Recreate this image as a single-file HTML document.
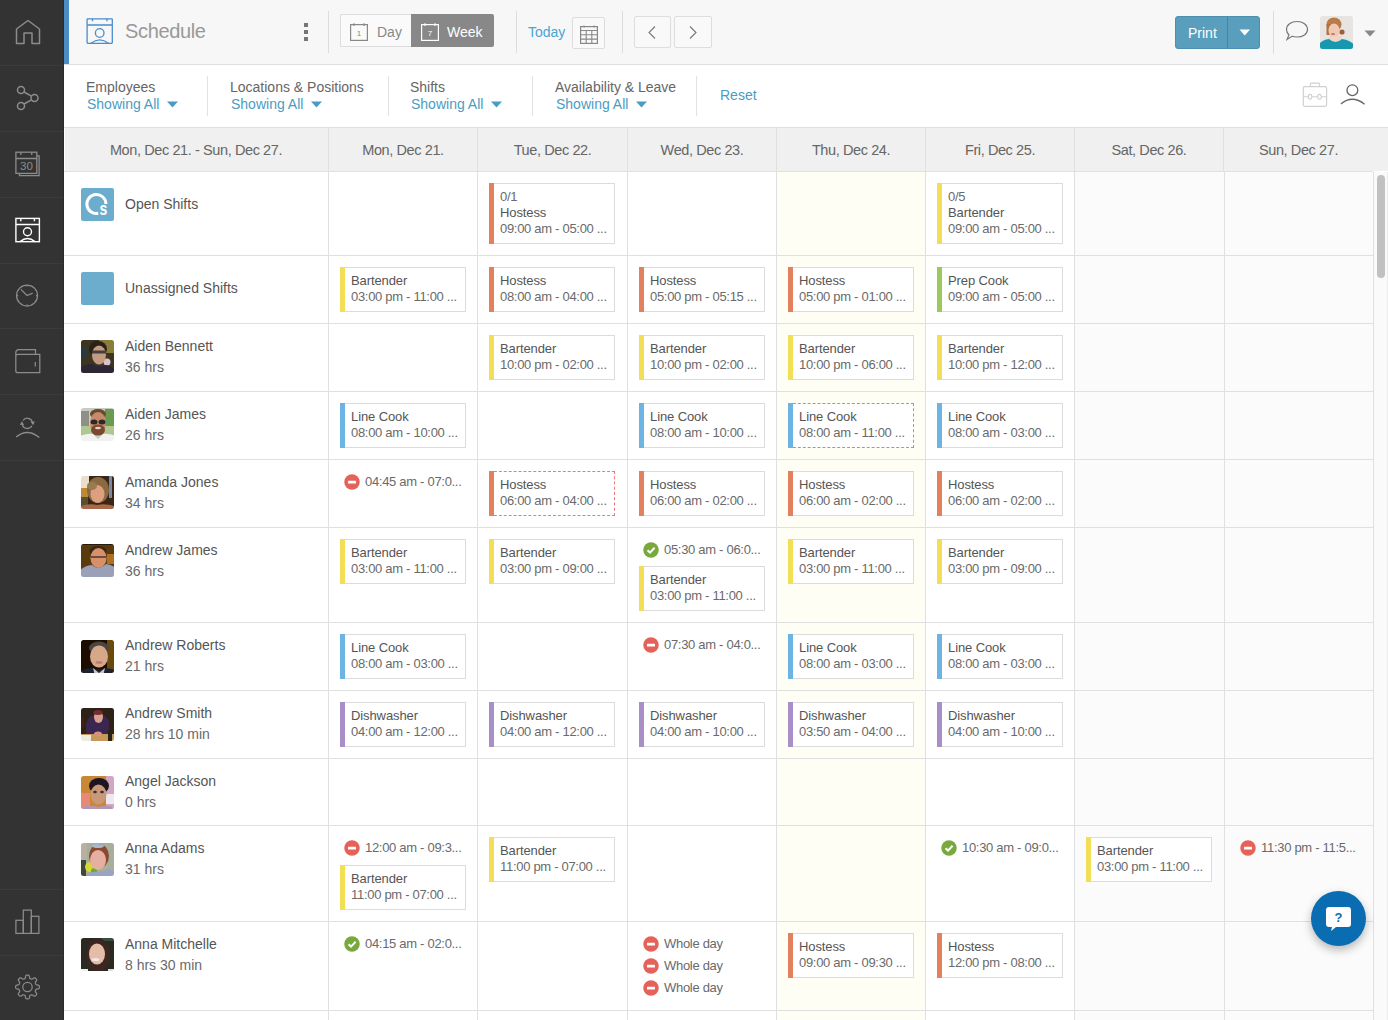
<!DOCTYPE html><html><head><meta charset="utf-8"><title>Schedule</title><style>html,body{margin:0;padding:0;}body{width:1388px;height:1020px;overflow:hidden;position:relative;background:#fff;font-family:"Liberation Sans", sans-serif;}</style></head><body><div style="position:absolute;left:0px;top:0px;width:64px;height:1020px;background:#333;"></div>
<div style="position:absolute;left:63px;top:0px;width:1px;height:1020px;background:#2a2a2a;"></div>
<div style="position:absolute;left:0px;top:65px;width:63px;height:1px;background:#3b3b3b;"></div>
<div style="position:absolute;left:0px;top:131px;width:63px;height:1px;background:#3b3b3b;"></div>
<div style="position:absolute;left:0px;top:197px;width:63px;height:1px;background:#3b3b3b;"></div>
<div style="position:absolute;left:0px;top:263px;width:63px;height:1px;background:#3b3b3b;"></div>
<div style="position:absolute;left:0px;top:328px;width:63px;height:1px;background:#3b3b3b;"></div>
<div style="position:absolute;left:0px;top:394px;width:63px;height:1px;background:#3b3b3b;"></div>
<div style="position:absolute;left:0px;top:460px;width:63px;height:1px;background:#3b3b3b;"></div>
<div style="position:absolute;left:0px;top:889px;width:63px;height:1px;background:#3b3b3b;"></div>
<div style="position:absolute;left:0px;top:955px;width:63px;height:1px;background:#3b3b3b;"></div>
<svg style="position:absolute;left:15px;top:19px;" width="26" height="26" viewBox="0 0 26 26"><path d="M1.5 24.5 V10 L13 1.5 L24.5 10 V24.5 H17 V14 H9 V24.5 Z" fill="none" stroke="#8c8c8c" stroke-width="1.5" stroke-linejoin="round"/></svg>
<svg style="position:absolute;left:15px;top:85px;" width="26" height="26" viewBox="0 0 26 26"><circle cx="6" cy="5" r="3.5" fill="none" stroke="#8c8c8c" stroke-width="1.5"/><circle cx="19.5" cy="13" r="3.5" fill="none" stroke="#8c8c8c" stroke-width="1.5"/><circle cx="6" cy="21" r="3.5" fill="none" stroke="#8c8c8c" stroke-width="1.5"/><path d="M9 7 L16.5 11.2 M9 19 L16.5 14.8" stroke="#8c8c8c" stroke-width="1.5"/></svg>
<svg style="position:absolute;left:15px;top:151px;" width="26" height="26" viewBox="0 0 26 26"><rect x="0.9" y="1.2" width="20.9" height="21.2" fill="none" stroke="#8c8c8c" stroke-width="1.3"/><path d="M0.9 7.5 H21.8 M5.9 1.2 V4 M16.75 1.2 V4 M21.8 4.8 H24.1 V24.6 H4.5 V22.4" fill="none" stroke="#8c8c8c" stroke-width="1.3"/><text x="11.4" y="19" font-size="11.5" text-anchor="middle" fill="#8c8c8c" font-family="Liberation Sans">30</text></svg>
<svg style="position:absolute;left:15px;top:217px;" width="26" height="26" viewBox="0 0 26 26"><rect x="0.9" y="1.4" width="23.5" height="23.3" fill="none" stroke="#fff" stroke-width="1.4"/><path d="M0.9 7.5 H24.4 M5.8 1.4 V4.2 M19.4 1.4 V4.2" stroke="#fff" stroke-width="1.4"/><circle cx="12.5" cy="14.8" r="4" fill="none" stroke="#fff" stroke-width="1.4"/><path d="M5.1 24.6 Q12.5 18.4 19.9 24.6" fill="none" stroke="#fff" stroke-width="1.4"/></svg>
<svg style="position:absolute;left:15px;top:283px;" width="26" height="26" viewBox="0 0 26 26"><circle cx="12.06" cy="12.5" r="10.5" fill="none" stroke="#8c8c8c" stroke-width="1.25"/><path d="M5.9 6.4 L12.06 12.5 L17.7 10.2 M12.06 2 V3.6 M12.06 21.4 V23 M1.6 12.5 H3.2 M20.9 12.5 H22.5" fill="none" stroke="#8c8c8c" stroke-width="1.25"/></svg>
<svg style="position:absolute;left:15px;top:349px;" width="26" height="26" viewBox="0 0 26 26"><path d="M0.8 22 V4 Q0.8 0.6 4 0.6 H20.5 V5.4 M0.8 7.5 Q0.8 5.4 3 5.4 H24.8 V23.7 H2.8 Q0.8 23.7 0.8 21.7" fill="none" stroke="#8c8c8c" stroke-width="1.25"/><path d="M20.3 12.9 V17.6" stroke="#8c8c8c" stroke-width="1.25"/></svg>
<svg style="position:absolute;left:15px;top:415px;" width="26" height="26" viewBox="0 0 26 26"><path d="M1.1 22 Q12.4 12.6 24.3 22.5" fill="none" stroke="#8c8c8c" stroke-width="1.4"/><path d="M8 5.5 A5.2 5.2 0 0 1 17.3 7.0 M16.9 10.85 A5.2 5.2 0 0 1 7.3 9.3" fill="none" stroke="#8c8c8c" stroke-width="1.3"/><path d="M15.6 6.8 L19.9 6.4 L18.1 10.2 Z M4.9 9.7 L9.1 9.9 L7.0 6.2 Z" fill="#8c8c8c"/></svg>
<svg style="position:absolute;left:15px;top:909px;" width="26" height="26" viewBox="0 0 26 26"><rect x="0.9" y="11.3" width="7.4" height="13.1" fill="none" stroke="#8c8c8c" stroke-width="1.25"/><rect x="8.3" y="1.1" width="8" height="23.3" fill="none" stroke="#8c8c8c" stroke-width="1.25"/><rect x="16.3" y="7.3" width="7.6" height="17.1" fill="none" stroke="#8c8c8c" stroke-width="1.25"/></svg>
<svg style="position:absolute;left:14px;top:974px;" width="28" height="28" viewBox="0 0 28 28"><path d="M25.35 13.00 L25.34 13.31 L25.32 13.62 L25.26 13.93 L25.17 14.23 L24.97 14.51 L24.60 14.76 L23.98 14.94 L23.22 15.07 L22.60 15.19 L22.22 15.34 L22.01 15.52 L21.87 15.72 L21.76 15.93 L21.67 16.14 L21.58 16.35 L21.50 16.56 L21.41 16.77 L21.34 16.99 L21.30 17.23 L21.32 17.51 L21.48 17.89 L21.84 18.41 L22.28 19.04 L22.59 19.61 L22.68 20.04 L22.62 20.38 L22.47 20.66 L22.29 20.92 L22.09 21.15 L21.88 21.38 L21.65 21.59 L21.42 21.79 L21.16 21.97 L20.88 22.12 L20.54 22.18 L20.11 22.09 L19.54 21.78 L18.91 21.34 L18.39 20.98 L18.01 20.82 L17.73 20.80 L17.49 20.84 L17.27 20.91 L17.06 21.00 L16.85 21.08 L16.64 21.17 L16.43 21.26 L16.22 21.37 L16.02 21.51 L15.84 21.72 L15.69 22.10 L15.57 22.72 L15.44 23.48 L15.26 24.10 L15.01 24.47 L14.73 24.67 L14.43 24.76 L14.12 24.82 L13.81 24.84 L13.50 24.85 L13.19 24.84 L12.88 24.82 L12.57 24.76 L12.27 24.67 L11.99 24.47 L11.74 24.10 L11.56 23.48 L11.43 22.72 L11.31 22.10 L11.16 21.72 L10.98 21.51 L10.78 21.37 L10.57 21.26 L10.36 21.17 L10.15 21.08 L9.94 21.00 L9.73 20.91 L9.51 20.84 L9.27 20.80 L8.99 20.82 L8.61 20.98 L8.09 21.34 L7.46 21.78 L6.89 22.09 L6.46 22.18 L6.12 22.12 L5.84 21.97 L5.58 21.79 L5.35 21.59 L5.12 21.38 L4.91 21.15 L4.71 20.92 L4.53 20.66 L4.38 20.38 L4.32 20.04 L4.41 19.61 L4.72 19.04 L5.16 18.41 L5.52 17.89 L5.68 17.51 L5.70 17.23 L5.66 16.99 L5.59 16.77 L5.50 16.56 L5.42 16.35 L5.33 16.14 L5.24 15.93 L5.13 15.72 L4.99 15.52 L4.78 15.34 L4.40 15.19 L3.78 15.07 L3.02 14.94 L2.40 14.76 L2.03 14.51 L1.83 14.23 L1.74 13.93 L1.68 13.62 L1.66 13.31 L1.65 13.00 L1.66 12.69 L1.68 12.38 L1.74 12.07 L1.83 11.77 L2.03 11.49 L2.40 11.24 L3.02 11.06 L3.78 10.93 L4.40 10.81 L4.78 10.66 L4.99 10.48 L5.13 10.28 L5.24 10.07 L5.33 9.86 L5.42 9.65 L5.50 9.44 L5.59 9.23 L5.66 9.01 L5.70 8.77 L5.68 8.49 L5.52 8.11 L5.16 7.59 L4.72 6.96 L4.41 6.39 L4.32 5.96 L4.38 5.62 L4.53 5.34 L4.71 5.08 L4.91 4.85 L5.12 4.62 L5.35 4.41 L5.58 4.21 L5.84 4.03 L6.12 3.88 L6.46 3.82 L6.89 3.91 L7.46 4.22 L8.09 4.66 L8.61 5.02 L8.99 5.18 L9.27 5.20 L9.51 5.16 L9.73 5.09 L9.94 5.00 L10.15 4.92 L10.36 4.83 L10.57 4.74 L10.78 4.63 L10.98 4.49 L11.16 4.28 L11.31 3.90 L11.43 3.28 L11.56 2.52 L11.74 1.90 L11.99 1.53 L12.27 1.33 L12.57 1.24 L12.88 1.18 L13.19 1.16 L13.50 1.15 L13.81 1.16 L14.12 1.18 L14.43 1.24 L14.73 1.33 L15.01 1.53 L15.26 1.90 L15.44 2.52 L15.57 3.28 L15.69 3.90 L15.84 4.28 L16.02 4.49 L16.22 4.63 L16.43 4.74 L16.64 4.83 L16.85 4.92 L17.06 5.00 L17.27 5.09 L17.49 5.16 L17.73 5.20 L18.01 5.18 L18.39 5.02 L18.91 4.66 L19.54 4.22 L20.11 3.91 L20.54 3.82 L20.88 3.88 L21.16 4.03 L21.42 4.21 L21.65 4.41 L21.88 4.62 L22.09 4.85 L22.29 5.08 L22.47 5.34 L22.62 5.62 L22.68 5.96 L22.59 6.39 L22.28 6.96 L21.84 7.59 L21.48 8.11 L21.32 8.49 L21.30 8.77 L21.34 9.01 L21.41 9.23 L21.50 9.44 L21.58 9.65 L21.67 9.86 L21.76 10.07 L21.87 10.28 L22.01 10.48 L22.22 10.66 L22.60 10.81 L23.22 10.93 L23.98 11.06 L24.60 11.24 L24.97 11.49 L25.17 11.77 L25.26 12.07 L25.32 12.38 L25.34 12.69 Z" fill="none" stroke="#8c8c8c" stroke-width="1.25" stroke-linejoin="round"/><circle cx="13.5" cy="13" r="4.7" fill="none" stroke="#8c8c8c" stroke-width="1.25"/></svg>
<div style="position:absolute;left:64px;top:0px;width:1324px;height:64px;background:#f7f7f7;"></div>
<div style="position:absolute;left:64px;top:64px;width:1324px;height:1px;background:#e0e0e0;"></div>
<div style="position:absolute;left:64px;top:0px;width:5px;height:64px;background:#4a8cc6;"></div>
<svg style="position:absolute;left:86px;top:18px;" width="27" height="26" viewBox="0 0 27 26"><rect x="1.1" y="0.8" width="25.2" height="24.5" rx="0.5" fill="none" stroke="#4a8dcc" stroke-width="1.3"/><path d="M1.1 7.0 H26.3 M6.5 0.8 V3.3 M21 0.8 V3.3" stroke="#4a8dcc" stroke-width="1.3"/><circle cx="13.7" cy="15" r="4.3" fill="none" stroke="#4a8dcc" stroke-width="1.3"/><path d="M5 25.3 Q13.7 18.3 22.4 25.3" fill="none" stroke="#4a8dcc" stroke-width="1.3"/></svg>
<div style="position:absolute;left:125px;top:19.90px;font-size:20px;line-height:23.00px;color:#999;white-space:nowrap;letter-spacing:-0.35px;">Schedule</div>
<div style="position:absolute;left:304px;top:23px;width:4px;height:4px;background:#777;"></div>
<div style="position:absolute;left:304px;top:30px;width:4px;height:4px;background:#777;"></div>
<div style="position:absolute;left:304px;top:37px;width:4px;height:4px;background:#777;"></div>
<div style="position:absolute;left:328px;top:11px;width:1px;height:42px;background:#ddd;"></div>
<div style="position:absolute;left:340px;top:14px;width:71px;height:33px;background:#fafafa;border:1px solid #ddd;border-right:none;border-radius:2px 0 0 2px;box-sizing:border-box;"></div>
<div style="position:absolute;left:411px;top:14px;width:83px;height:33px;background:#888;border-radius:0 2px 2px 0;"></div>
<svg style="position:absolute;left:350px;top:23px;" width="18" height="18" viewBox="0 0 18 18"><rect x="0.6" y="1.6" width="16.8" height="15.8" fill="none" stroke="#888" stroke-width="1.2"/><path d="M4 0.3 V3 M14 0.3 V3" stroke="#888" stroke-width="1.2"/><text x="9" y="13" font-size="8" text-anchor="middle" fill="#888" font-family="Liberation Sans">1</text></svg>
<div style="position:absolute;left:377px;top:24.33px;font-size:14px;line-height:16.10px;color:#888;white-space:nowrap;">Day</div>
<svg style="position:absolute;left:421px;top:23px;" width="18" height="18" viewBox="0 0 18 18"><rect x="0.6" y="1.6" width="16.8" height="15.8" fill="none" stroke="#fff" stroke-width="1.2"/><path d="M4 0.3 V3 M14 0.3 V3" stroke="#fff" stroke-width="1.2"/><text x="9" y="12.5" font-size="8" text-anchor="middle" fill="#fff" font-family="Liberation Sans">7</text></svg>
<div style="position:absolute;left:447px;top:24.33px;font-size:14px;line-height:16.10px;color:#fff;white-space:nowrap;">Week</div>
<div style="position:absolute;left:516px;top:11px;width:1px;height:42px;background:#ddd;"></div>
<div style="position:absolute;left:528px;top:24.33px;font-size:14px;line-height:16.10px;color:#4ba3d0;white-space:nowrap;">Today</div>
<div style="position:absolute;left:572px;top:17px;width:33px;height:32px;border:1px solid #ddd;border-radius:2px;box-sizing:border-box;background:#f9f9f9;"></div>
<svg style="position:absolute;left:580px;top:25px;" width="18" height="19" viewBox="0 0 18 19"><rect x="0.6" y="1.6" width="16.8" height="16.8" fill="none" stroke="#888" stroke-width="1.2"/><path d="M0.6 5.5 H17.4 M0.6 9.8 H17.4 M0.6 14.1 H17.4 M6.2 5.5 V18.4 M11.8 5.5 V18.4 M4 0.5 V2.5 M14 0.5 V2.5" stroke="#888" stroke-width="1.1"/></svg>
<div style="position:absolute;left:622px;top:11px;width:1px;height:42px;background:#ddd;"></div>
<div style="position:absolute;left:634px;top:16px;width:37px;height:32px;border:1px solid #ddd;border-radius:2px;box-sizing:border-box;background:#f9f9f9;"></div>
<div style="position:absolute;left:674px;top:16px;width:38px;height:32px;border:1px solid #ddd;border-radius:2px;box-sizing:border-box;background:#f9f9f9;"></div>
<svg style="position:absolute;left:646px;top:25px;" width="12" height="15" viewBox="0 0 12 15"><path d="M9 1.5 L3 7.5 L9 13.5" fill="none" stroke="#777" stroke-width="1.1"/></svg>
<svg style="position:absolute;left:687px;top:25px;" width="12" height="15" viewBox="0 0 12 15"><path d="M3 1.5 L9 7.5 L3 13.5" fill="none" stroke="#777" stroke-width="1.1"/></svg>
<div style="position:absolute;left:1175px;top:16px;width:85px;height:33px;background:#5a9ebd;border:1px solid #4d8fae;border-radius:3px;box-sizing:border-box;"></div>
<div style="position:absolute;left:1227px;top:17px;width:1px;height:31px;background:#3f86a8;"></div>
<div style="position:absolute;left:1188px;top:25.33px;font-size:14px;line-height:16.10px;color:#fff;white-space:nowrap;">Print</div>
<svg style="position:absolute;left:1239px;top:29px;" width="12" height="8" viewBox="0 0 12 8"><path d="M0.5 0.5 H11 L5.75 6.5 Z" fill="#fff"/></svg>
<div style="position:absolute;left:1273px;top:11px;width:1px;height:43px;background:#ddd;"></div>
<svg style="position:absolute;left:1285px;top:20px;" width="24" height="22" viewBox="0 0 24 22"><path d="M12 1.5 C18 1.5 22.5 5 22.5 9.5 C22.5 14 18 17 12 17 C10 17 8.5 16.8 7 16.3 L2 19.5 L4 15 C2.5 13.5 1.5 11.8 1.5 9.5 C1.5 5 6 1.5 12 1.5 Z" fill="none" stroke="#777" stroke-width="1.2"/></svg>
<svg style="position:absolute;left:1320px;top:16px;" width="33" height="33" viewBox="0 0 33 33"><defs><clipPath id="cpa"><rect width="33" height="33" rx="2.5"/></clipPath><filter id="fpa"><feGaussianBlur stdDeviation="0.7"/></filter></defs><g clip-path="url(#cpa)"><g filter="url(#fpa)"><rect x="-3" y="-3" width="39" height="39" fill="#e8e4e2"/><ellipse cx="14" cy="8.5" rx="7.5" ry="7" fill="#b87c48"/><rect x="6.5" y="8" width="4" height="11" fill="#b07040"/><circle cx="22" cy="16" r="2.6" fill="#9a6038"/><ellipse cx="14" cy="14.5" rx="5.5" ry="7" fill="#f0c8b4"/><ellipse cx="13" cy="18" rx="2" ry="1" fill="#d86870"/><path d="M9 20 H21 L23 28 H8 Z" fill="#f0d4c4"/><path d="M-3 36 L-3 30 Q3 23 9 23 Q15.5 29 22 23 Q30 24 36 30 L36 36 Z" fill="#1898b0"/></g></g></svg>
<svg style="position:absolute;left:1364px;top:30px;" width="12" height="7" viewBox="0 0 12 7"><path d="M0.5 0.5 H11.5 L6 6.5 Z" fill="#888"/></svg>
<div style="position:absolute;left:64px;top:65px;width:1324px;height:62px;background:#fff;"></div>
<div style="position:absolute;left:64px;top:127px;width:1324px;height:1px;background:#e0e0e0;"></div>
<div style="position:absolute;left:86px;top:79.33px;font-size:14px;line-height:16.10px;color:#666;white-space:nowrap;">Employees</div>
<div style="position:absolute;left:87px;top:96.33px;font-size:14px;line-height:16.10px;color:#4a9cc2;white-space:nowrap;">Showing All</div>
<svg style="position:absolute;left:167px;top:101px;" width="11" height="7" viewBox="0 0 11 7"><path d="M0 0.5 H11 L5.5 6.5 Z" fill="#4a9cc2"/></svg>
<div style="position:absolute;left:207px;top:76px;width:1px;height:40px;background:#e3e3e3;"></div>
<div style="position:absolute;left:230px;top:79.33px;font-size:14px;line-height:16.10px;color:#666;white-space:nowrap;">Locations &amp; Positions</div>
<div style="position:absolute;left:231px;top:96.33px;font-size:14px;line-height:16.10px;color:#4a9cc2;white-space:nowrap;">Showing All</div>
<svg style="position:absolute;left:311px;top:101px;" width="11" height="7" viewBox="0 0 11 7"><path d="M0 0.5 H11 L5.5 6.5 Z" fill="#4a9cc2"/></svg>
<div style="position:absolute;left:388px;top:76px;width:1px;height:40px;background:#e3e3e3;"></div>
<div style="position:absolute;left:410px;top:79.33px;font-size:14px;line-height:16.10px;color:#666;white-space:nowrap;">Shifts</div>
<div style="position:absolute;left:411px;top:96.33px;font-size:14px;line-height:16.10px;color:#4a9cc2;white-space:nowrap;">Showing All</div>
<svg style="position:absolute;left:491px;top:101px;" width="11" height="7" viewBox="0 0 11 7"><path d="M0 0.5 H11 L5.5 6.5 Z" fill="#4a9cc2"/></svg>
<div style="position:absolute;left:532px;top:76px;width:1px;height:40px;background:#e3e3e3;"></div>
<div style="position:absolute;left:555px;top:79.33px;font-size:14px;line-height:16.10px;color:#666;white-space:nowrap;">Availability &amp; Leave</div>
<div style="position:absolute;left:556px;top:96.33px;font-size:14px;line-height:16.10px;color:#4a9cc2;white-space:nowrap;">Showing All</div>
<svg style="position:absolute;left:636px;top:101px;" width="11" height="7" viewBox="0 0 11 7"><path d="M0 0.5 H11 L5.5 6.5 Z" fill="#4a9cc2"/></svg>
<div style="position:absolute;left:696px;top:76px;width:1px;height:40px;background:#e3e3e3;"></div>
<div style="position:absolute;left:720px;top:87.33px;font-size:14px;line-height:16.10px;color:#4a9cc2;white-space:nowrap;">Reset</div>
<svg style="position:absolute;left:1302px;top:81.7px;" width="26" height="26" viewBox="0 0 26 26"><path d="M8.4 4.7 V2 Q8.4 1.1 9.3 1.1 H16.6 Q17.5 1.1 17.5 2 V4.7" fill="none" stroke="#d0d0d0" stroke-width="1.2"/><rect x="1.3" y="4.7" width="23.3" height="19.6" rx="1.5" fill="none" stroke="#d0d0d0" stroke-width="1.2"/><path d="M1.3 14.75 H6.3 M9.9 14.75 H15.7 M19.3 14.75 H24.6" stroke="#d0d0d0" stroke-width="1.2"/><ellipse cx="8.1" cy="14.75" rx="1.8" ry="2.4" fill="none" stroke="#d0d0d0" stroke-width="1.1"/><ellipse cx="17.5" cy="14.75" rx="1.8" ry="2.4" fill="none" stroke="#d0d0d0" stroke-width="1.1"/></svg>
<svg style="position:absolute;left:1339px;top:83px;" width="27" height="23" viewBox="0 0 27 23"><circle cx="13.4" cy="7.2" r="5.4" fill="none" stroke="#666" stroke-width="1.3"/><path d="M1.9 20.9 Q13.4 11.5 25.6 21.2" fill="none" stroke="#666" stroke-width="1.3"/></svg>
<div style="position:absolute;left:65px;top:128px;width:1308px;height:43px;background:#f0f0f0;"></div>
<div style="position:absolute;left:1373px;top:128px;width:15px;height:43px;background:#f0f0f0;"></div>
<div style="position:absolute;left:64px;top:171px;width:1309px;height:1px;background:#e0e0e0;"></div>
<div style="position:absolute;left:46px;top:141.88px;width:300px;text-align:center;font-size:14.5px;line-height:16.67px;color:#666;white-space:nowrap;letter-spacing:-0.4px;">Mon, Dec 21. - Sun, Dec 27.</div>
<div style="position:absolute;left:253.0px;top:141.88px;width:300px;text-align:center;font-size:14.5px;line-height:16.67px;color:#666;white-space:nowrap;letter-spacing:-0.4px;">Mon, Dec 21.</div>
<div style="position:absolute;left:402.5px;top:141.88px;width:300px;text-align:center;font-size:14.5px;line-height:16.67px;color:#666;white-space:nowrap;letter-spacing:-0.4px;">Tue, Dec 22.</div>
<div style="position:absolute;left:552.0px;top:141.88px;width:300px;text-align:center;font-size:14.5px;line-height:16.67px;color:#666;white-space:nowrap;letter-spacing:-0.4px;">Wed, Dec 23.</div>
<div style="position:absolute;left:701.0px;top:141.88px;width:300px;text-align:center;font-size:14.5px;line-height:16.67px;color:#666;white-space:nowrap;letter-spacing:-0.4px;">Thu, Dec 24.</div>
<div style="position:absolute;left:850.0px;top:141.88px;width:300px;text-align:center;font-size:14.5px;line-height:16.67px;color:#666;white-space:nowrap;letter-spacing:-0.4px;">Fri, Dec 25.</div>
<div style="position:absolute;left:999.0px;top:141.88px;width:300px;text-align:center;font-size:14.5px;line-height:16.67px;color:#666;white-space:nowrap;letter-spacing:-0.4px;">Sat, Dec 26.</div>
<div style="position:absolute;left:1148.5px;top:141.88px;width:300px;text-align:center;font-size:14.5px;line-height:16.67px;color:#666;white-space:nowrap;letter-spacing:-0.4px;">Sun, Dec 27.</div>
<div style="position:absolute;left:777px;top:172px;width:148px;height:848px;background:#fefef4;"></div>
<div style="position:absolute;left:1075px;top:172px;width:298px;height:848px;background:#fbfbfb;"></div>
<div style="position:absolute;left:328px;top:128px;width:1px;height:44px;background:#e0e0e0;"></div>
<div style="position:absolute;left:477px;top:128px;width:1px;height:44px;background:#e0e0e0;"></div>
<div style="position:absolute;left:627px;top:128px;width:1px;height:44px;background:#e0e0e0;"></div>
<div style="position:absolute;left:776px;top:128px;width:1px;height:44px;background:#e0e0e0;"></div>
<div style="position:absolute;left:925px;top:128px;width:1px;height:44px;background:#e0e0e0;"></div>
<div style="position:absolute;left:1074px;top:128px;width:1px;height:44px;background:#e0e0e0;"></div>
<div style="position:absolute;left:1223px;top:128px;width:1px;height:44px;background:#e0e0e0;"></div>
<div style="position:absolute;left:328px;top:172px;width:1px;height:848px;background:#e0e0e0;"></div>
<div style="position:absolute;left:477px;top:172px;width:1px;height:848px;background:#e0e0e0;"></div>
<div style="position:absolute;left:627px;top:172px;width:1px;height:848px;background:#e0e0e0;"></div>
<div style="position:absolute;left:776px;top:172px;width:1px;height:848px;background:#e0e0e0;"></div>
<div style="position:absolute;left:925px;top:172px;width:1px;height:848px;background:#e0e0e0;"></div>
<div style="position:absolute;left:1074px;top:172px;width:1px;height:848px;background:#e0e0e0;"></div>
<div style="position:absolute;left:1224px;top:172px;width:1px;height:848px;background:#e0e0e0;"></div>
<div style="position:absolute;left:1373px;top:172px;width:1px;height:848px;background:#e0e0e0;"></div>
<div style="position:absolute;left:64px;top:255px;width:1309px;height:1px;background:#e0e0e0;"></div>
<div style="position:absolute;left:64px;top:323px;width:1309px;height:1px;background:#e0e0e0;"></div>
<div style="position:absolute;left:64px;top:391px;width:1309px;height:1px;background:#e0e0e0;"></div>
<div style="position:absolute;left:64px;top:459px;width:1309px;height:1px;background:#e0e0e0;"></div>
<div style="position:absolute;left:64px;top:527px;width:1309px;height:1px;background:#e0e0e0;"></div>
<div style="position:absolute;left:64px;top:622px;width:1309px;height:1px;background:#e0e0e0;"></div>
<div style="position:absolute;left:64px;top:690px;width:1309px;height:1px;background:#e0e0e0;"></div>
<div style="position:absolute;left:64px;top:758px;width:1309px;height:1px;background:#e0e0e0;"></div>
<div style="position:absolute;left:64px;top:825px;width:1309px;height:1px;background:#e0e0e0;"></div>
<div style="position:absolute;left:64px;top:921px;width:1309px;height:1px;background:#e0e0e0;"></div>
<div style="position:absolute;left:64px;top:1010px;width:1309px;height:1px;background:#e0e0e0;"></div>
<div style="position:absolute;left:1374px;top:172px;width:14px;height:848px;background:#fafafa;"></div>
<div style="position:absolute;left:1387px;top:172px;width:1px;height:848px;background:#ececec;"></div>
<div style="position:absolute;left:1377px;top:175px;width:8px;height:103px;background:#c1c1c1;border-radius:4px;"></div>
<svg style="position:absolute;left:81px;top:188px;" width="33" height="33" viewBox="0 0 33 33"><rect width="33" height="33" rx="2" fill="#6cadcd"/><path d="M24.9 15.9 A9.5 9.5 0 1 0 17.2 25.3" fill="none" stroke="#fff" stroke-width="3"/><text transform="translate(18.6 27) scale(0.78 1)" font-size="18" font-weight="bold" fill="#fff" font-family="Liberation Sans">s</text></svg>
<div style="position:absolute;left:125px;top:196.33px;font-size:14px;line-height:16.10px;color:#555;white-space:nowrap;">Open Shifts</div>
<svg style="position:absolute;left:81px;top:272px;" width="33" height="33" viewBox="0 0 33 33"><rect width="33" height="33" rx="2" fill="#6cadcd"/></svg>
<div style="position:absolute;left:125px;top:280.33px;font-size:14px;line-height:16.10px;color:#555;white-space:nowrap;">Unassigned Shifts</div>
<svg style="position:absolute;left:81px;top:340px;" width="33" height="33" viewBox="0 0 33 33"><defs><clipPath id="avc1"><rect width="33" height="33" rx="2.5"/></clipPath><filter id="avf1" x="-10%" y="-10%" width="120%" height="120%"><feGaussianBlur stdDeviation="0.7"/></filter></defs><g clip-path="url(#avc1)"><g filter="url(#avf1)"><rect x="-3" y="-3" width="39" height="39" fill="#3a3420"/><rect x="18" y="-3" width="18" height="16" fill="#8a7c3a"/><rect x="-3" y="8" width="9" height="10" fill="#2a3a40"/><circle cx="26" cy="22" r="3.5" fill="#d8c0cc"/><ellipse cx="17" cy="9" rx="9" ry="8" fill="#2a2218"/><ellipse cx="18" cy="15" rx="7" ry="9.5" fill="#c49a80"/><rect x="11" y="10.5" width="14" height="3" fill="#404040"/><path d="M-3 36 L-3 30 Q3 24 11 24 Q18 28 25 25 Q33 26 36 33 L36 36 Z" fill="#2e2636"/></g></g></svg>
<div style="position:absolute;left:125px;top:338.33px;font-size:14px;line-height:16.10px;color:#555;white-space:nowrap;">Aiden Bennett</div>
<div style="position:absolute;left:125px;top:359.33px;font-size:14px;line-height:16.10px;color:#6a6a6a;white-space:nowrap;">36 hrs</div>
<svg style="position:absolute;left:81px;top:408px;" width="33" height="33" viewBox="0 0 33 33"><defs><clipPath id="avc2"><rect width="33" height="33" rx="2.5"/></clipPath><filter id="avf2" x="-10%" y="-10%" width="120%" height="120%"><feGaussianBlur stdDeviation="0.7"/></filter></defs><g clip-path="url(#avc2)"><g filter="url(#avf2)"><rect x="-3" y="-3" width="39" height="39" fill="#c8ccbe"/><rect x="-3" y="3" width="11" height="16" fill="#8c9088"/><rect x="24" y="1" width="12" height="18" fill="#6a9a50"/><rect x="-3" y="18" width="39" height="9" fill="#b0c890"/><ellipse cx="17" cy="6" rx="8" ry="5" fill="#6a4a30"/><ellipse cx="17" cy="15" rx="8" ry="11" fill="#c88a6a"/><ellipse cx="13" cy="14" rx="3.5" ry="2.5" fill="#2a2a2a"/><ellipse cx="21" cy="14" rx="3.5" ry="2.5" fill="#2a2a2a"/><ellipse cx="17" cy="22" rx="7" ry="5.5" fill="#7a4a32"/><ellipse cx="17" cy="20" rx="3" ry="1.2" fill="#e8d0c0"/><path d="M-3 36 L-3 29 Q6 25 12 26 L17 31 L22 26 Q29 25 36 29 L36 36 Z" fill="#f2f2f2"/></g></g></svg>
<div style="position:absolute;left:125px;top:406.33px;font-size:14px;line-height:16.10px;color:#555;white-space:nowrap;">Aiden James</div>
<div style="position:absolute;left:125px;top:427.33px;font-size:14px;line-height:16.10px;color:#6a6a6a;white-space:nowrap;">26 hrs</div>
<svg style="position:absolute;left:81px;top:476px;" width="33" height="33" viewBox="0 0 33 33"><defs><clipPath id="avc3"><rect width="33" height="33" rx="2.5"/></clipPath><filter id="avf3" x="-10%" y="-10%" width="120%" height="120%"><feGaussianBlur stdDeviation="0.7"/></filter></defs><g clip-path="url(#avc3)"><g filter="url(#avf3)"><rect x="-3" y="-3" width="39" height="39" fill="#3a2818"/><rect x="-3" y="-3" width="11" height="15" fill="#e8e0c8"/><rect x="-3" y="12" width="10" height="9" fill="#c08830"/><rect x="-3" y="21" width="10" height="12" fill="#5a5030"/><rect x="28" y="-3" width="3" height="25" fill="#7a88a8"/><ellipse cx="17" cy="14" rx="11" ry="13" fill="#8a6a40"/><ellipse cx="16.5" cy="18" rx="7" ry="9" fill="#dca080"/><ellipse cx="11" cy="10" rx="5" ry="4" fill="#9a7a50"/><path d="M-3 36 L0 30 Q8 27 16 29 Q26 27 36 31 L36 36 Z" fill="#a86848"/></g></g></svg>
<div style="position:absolute;left:125px;top:474.33px;font-size:14px;line-height:16.10px;color:#555;white-space:nowrap;">Amanda Jones</div>
<div style="position:absolute;left:125px;top:495.33px;font-size:14px;line-height:16.10px;color:#6a6a6a;white-space:nowrap;">34 hrs</div>
<svg style="position:absolute;left:81px;top:544px;" width="33" height="33" viewBox="0 0 33 33"><defs><clipPath id="avc4"><rect width="33" height="33" rx="2.5"/></clipPath><filter id="avf4" x="-10%" y="-10%" width="120%" height="120%"><feGaussianBlur stdDeviation="0.7"/></filter></defs><g clip-path="url(#avc4)"><g filter="url(#avf4)"><rect x="-3" y="-3" width="39" height="39" fill="#5a3a10"/><rect x="26" y="10" width="10" height="10" fill="#b07020"/><rect x="-3" y="-3" width="39" height="4" fill="#2a1a08"/><ellipse cx="17" cy="7" rx="8.5" ry="5" fill="#3a2818"/><ellipse cx="17.5" cy="14" rx="8" ry="10" fill="#d8906a"/><rect x="10" y="12" width="15" height="2" fill="#6a5040"/><path d="M-3 36 L-3 28 Q4 21 11 21 Q17 27 25 20 Q33 21 36 26 L36 36 Z" fill="#9aa0b8"/></g></g></svg>
<div style="position:absolute;left:125px;top:542.33px;font-size:14px;line-height:16.10px;color:#555;white-space:nowrap;">Andrew James</div>
<div style="position:absolute;left:125px;top:563.33px;font-size:14px;line-height:16.10px;color:#6a6a6a;white-space:nowrap;">36 hrs</div>
<svg style="position:absolute;left:81px;top:640px;" width="33" height="33" viewBox="0 0 33 33"><defs><clipPath id="avc5"><rect width="33" height="33" rx="2.5"/></clipPath><filter id="avf5" x="-10%" y="-10%" width="120%" height="120%"><feGaussianBlur stdDeviation="0.7"/></filter></defs><g clip-path="url(#avc5)"><g filter="url(#avf5)"><rect x="-3" y="-3" width="39" height="39" fill="#1e0c06"/><rect x="26" y="-3" width="10" height="39" fill="#6a4a10"/><ellipse cx="18" cy="8" rx="10" ry="6.5" fill="#4a4440"/><ellipse cx="18" cy="16.5" rx="9" ry="11" fill="#d4a888"/><ellipse cx="18" cy="22.5" rx="3.5" ry="1.2" fill="#c07870"/><path d="M-3 36 L2 30 Q10 27 13 28 Q18 31 24 28 Q30 28 36 31 L36 36 Z" fill="#1e2230"/><path d="M12 28 L18 33 L24 28 L22 36 L14 36 Z" fill="#c8c8c8"/></g></g></svg>
<div style="position:absolute;left:125px;top:637.33px;font-size:14px;line-height:16.10px;color:#555;white-space:nowrap;">Andrew Roberts</div>
<div style="position:absolute;left:125px;top:658.33px;font-size:14px;line-height:16.10px;color:#6a6a6a;white-space:nowrap;">21 hrs</div>
<svg style="position:absolute;left:81px;top:708px;" width="33" height="33" viewBox="0 0 33 33"><defs><clipPath id="avc6"><rect width="33" height="33" rx="2.5"/></clipPath><filter id="avf6" x="-10%" y="-10%" width="120%" height="120%"><feGaussianBlur stdDeviation="0.7"/></filter></defs><g clip-path="url(#avc6)"><g filter="url(#avf6)"><rect x="-3" y="-3" width="39" height="39" fill="#2e2018"/><rect x="-3" y="10" width="6" height="10" fill="#4a1c18"/><ellipse cx="17" cy="15" rx="11" ry="9" fill="#3a2850"/><rect x="5" y="15" width="23" height="12" fill="#3a2850"/><ellipse cx="17.5" cy="9" rx="4.5" ry="6" fill="#d8a090"/><ellipse cx="17" cy="4.5" rx="4.5" ry="2.5" fill="#7a2a30"/><rect x="-3" y="26" width="39" height="10" fill="#c89858"/><rect x="-3" y="27" width="13" height="9" fill="#eeeae0"/><ellipse cx="17" cy="26" rx="4" ry="2.5" fill="#d89080"/><rect x="27" y="22" width="4" height="14" fill="#2a2418"/></g></g></svg>
<div style="position:absolute;left:125px;top:705.33px;font-size:14px;line-height:16.10px;color:#555;white-space:nowrap;">Andrew Smith</div>
<div style="position:absolute;left:125px;top:726.33px;font-size:14px;line-height:16.10px;color:#6a6a6a;white-space:nowrap;">28 hrs 10 min</div>
<svg style="position:absolute;left:81px;top:776px;" width="33" height="33" viewBox="0 0 33 33"><defs><clipPath id="avc7"><rect width="33" height="33" rx="2.5"/></clipPath><filter id="avf7" x="-10%" y="-10%" width="120%" height="120%"><feGaussianBlur stdDeviation="0.7"/></filter></defs><g clip-path="url(#avc7)"><g filter="url(#avf7)"><rect x="-3" y="-3" width="39" height="39" fill="#c88838"/><rect x="-3" y="17" width="12" height="19" fill="#e88878"/><rect x="25" y="-3" width="11" height="39" fill="#d0a8c0"/><rect x="25" y="18" width="11" height="10" fill="#f0e8f0"/><ellipse cx="18" cy="10" rx="10" ry="8" fill="#1e1420"/><ellipse cx="17.5" cy="18.5" rx="8" ry="10" fill="#c89878"/><ellipse cx="14" cy="16" rx="1.8" ry="1.2" fill="#3a2a30"/><ellipse cx="21" cy="16" rx="1.8" ry="1.2" fill="#3a2a30"/><path d="M-3 36 L4 30 Q12 29 17 31 Q23 29 30 30 L36 36 Z" fill="#b098b0"/></g></g></svg>
<div style="position:absolute;left:125px;top:773.33px;font-size:14px;line-height:16.10px;color:#555;white-space:nowrap;">Angel Jackson</div>
<div style="position:absolute;left:125px;top:794.33px;font-size:14px;line-height:16.10px;color:#6a6a6a;white-space:nowrap;">0 hrs</div>
<svg style="position:absolute;left:81px;top:843px;" width="33" height="33" viewBox="0 0 33 33"><defs><clipPath id="avc8"><rect width="33" height="33" rx="2.5"/></clipPath><filter id="avf8" x="-10%" y="-10%" width="120%" height="120%"><feGaussianBlur stdDeviation="0.7"/></filter></defs><g clip-path="url(#avc8)"><g filter="url(#avf8)"><rect x="-3" y="-3" width="39" height="39" fill="#a8ae9c"/><rect x="-3" y="-3" width="9" height="20" fill="#b8b0a0"/><rect x="-3" y="17" width="8" height="19" fill="#404838"/><circle cx="9" cy="24" r="5" fill="#d8d830"/><circle cx="13" cy="28" r="3" fill="#60b030"/><ellipse cx="18" cy="13" rx="10" ry="12" fill="#8a4a30"/><ellipse cx="17" cy="17" rx="8" ry="10" fill="#e6b0a0"/><ellipse cx="17" cy="3" rx="6" ry="2" fill="#a8b8d0"/><path d="M3 36 L6 31 Q12 28 16 29 Q22 29 27 26 Q33 27 36 32 L36 36 Z" fill="#9aa4c0"/></g></g></svg>
<div style="position:absolute;left:125px;top:840.33px;font-size:14px;line-height:16.10px;color:#555;white-space:nowrap;">Anna Adams</div>
<div style="position:absolute;left:125px;top:861.33px;font-size:14px;line-height:16.10px;color:#6a6a6a;white-space:nowrap;">31 hrs</div>
<svg style="position:absolute;left:81px;top:938px;" width="33" height="33" viewBox="0 0 33 33"><defs><clipPath id="avc9"><rect width="33" height="33" rx="2.5"/></clipPath><filter id="avf9" x="-10%" y="-10%" width="120%" height="120%"><feGaussianBlur stdDeviation="0.7"/></filter></defs><g clip-path="url(#avc9)"><g filter="url(#avf9)"><rect x="-3" y="-3" width="39" height="39" fill="#2a2a24"/><rect x="20" y="-3" width="16" height="6" fill="#3a5040"/><ellipse cx="17" cy="17" rx="12" ry="17" fill="#3a2822"/><ellipse cx="16" cy="16" rx="8" ry="10.5" fill="#e4bca8"/><ellipse cx="14.5" cy="21.5" rx="4" ry="1.5" fill="#f0e8e8"/><rect x="-3" y="31" width="10" height="5" fill="#eeeeee"/><rect x="27" y="31" width="9" height="5" fill="#dddddd"/></g></g></svg>
<div style="position:absolute;left:125px;top:936.33px;font-size:14px;line-height:16.10px;color:#555;white-space:nowrap;">Anna Mitchelle</div>
<div style="position:absolute;left:125px;top:957.33px;font-size:14px;line-height:16.10px;color:#6a6a6a;white-space:nowrap;">8 hrs 30 min</div>
<div style="position:absolute;left:489px;top:183px;width:126px;height:61px;background:#fff;border:1px solid #dcdcdc;box-sizing:border-box;"></div>
<div style="position:absolute;left:489px;top:183px;width:5px;height:61px;background:#e3805d;"></div>
<div style="position:absolute;left:500px;top:189.94px;font-size:13px;line-height:14.95px;color:#6a6a6a;white-space:nowrap;letter-spacing:-0.3px;">0/1</div>
<div style="position:absolute;left:500px;top:205.94px;font-size:13px;line-height:14.95px;color:#555;white-space:nowrap;letter-spacing:-0.1px;">Hostess</div>
<div style="position:absolute;left:500px;top:221.94px;font-size:13px;line-height:14.95px;color:#6a6a6a;white-space:nowrap;letter-spacing:-0.3px;">09:00 am - 05:00 ...</div>
<div style="position:absolute;left:937px;top:183px;width:126px;height:61px;background:#fff;border:1px solid #dcdcdc;box-sizing:border-box;"></div>
<div style="position:absolute;left:937px;top:183px;width:5px;height:61px;background:#f3df55;"></div>
<div style="position:absolute;left:948px;top:189.94px;font-size:13px;line-height:14.95px;color:#6a6a6a;white-space:nowrap;letter-spacing:-0.3px;">0/5</div>
<div style="position:absolute;left:948px;top:205.94px;font-size:13px;line-height:14.95px;color:#555;white-space:nowrap;letter-spacing:-0.1px;">Bartender</div>
<div style="position:absolute;left:948px;top:221.94px;font-size:13px;line-height:14.95px;color:#6a6a6a;white-space:nowrap;letter-spacing:-0.3px;">09:00 am - 05:00 ...</div>
<div style="position:absolute;left:340px;top:267px;width:126px;height:45px;background:#fff;border:1px solid #dcdcdc;box-sizing:border-box;"></div>
<div style="position:absolute;left:340px;top:267px;width:5px;height:45px;background:#f3df55;"></div>
<div style="position:absolute;left:351px;top:273.94px;font-size:13px;line-height:14.95px;color:#555;white-space:nowrap;letter-spacing:-0.1px;">Bartender</div>
<div style="position:absolute;left:351px;top:289.94px;font-size:13px;line-height:14.95px;color:#6a6a6a;white-space:nowrap;letter-spacing:-0.3px;">03:00 pm - 11:00 ...</div>
<div style="position:absolute;left:489px;top:267px;width:126px;height:45px;background:#fff;border:1px solid #dcdcdc;box-sizing:border-box;"></div>
<div style="position:absolute;left:489px;top:267px;width:5px;height:45px;background:#e3805d;"></div>
<div style="position:absolute;left:500px;top:273.94px;font-size:13px;line-height:14.95px;color:#555;white-space:nowrap;letter-spacing:-0.1px;">Hostess</div>
<div style="position:absolute;left:500px;top:289.94px;font-size:13px;line-height:14.95px;color:#6a6a6a;white-space:nowrap;letter-spacing:-0.3px;">08:00 am - 04:00 ...</div>
<div style="position:absolute;left:639px;top:267px;width:126px;height:45px;background:#fff;border:1px solid #dcdcdc;box-sizing:border-box;"></div>
<div style="position:absolute;left:639px;top:267px;width:5px;height:45px;background:#e3805d;"></div>
<div style="position:absolute;left:650px;top:273.94px;font-size:13px;line-height:14.95px;color:#555;white-space:nowrap;letter-spacing:-0.1px;">Hostess</div>
<div style="position:absolute;left:650px;top:289.94px;font-size:13px;line-height:14.95px;color:#6a6a6a;white-space:nowrap;letter-spacing:-0.3px;">05:00 pm - 05:15 ...</div>
<div style="position:absolute;left:788px;top:267px;width:126px;height:45px;background:#fff;border:1px solid #dcdcdc;box-sizing:border-box;"></div>
<div style="position:absolute;left:788px;top:267px;width:5px;height:45px;background:#e3805d;"></div>
<div style="position:absolute;left:799px;top:273.94px;font-size:13px;line-height:14.95px;color:#555;white-space:nowrap;letter-spacing:-0.1px;">Hostess</div>
<div style="position:absolute;left:799px;top:289.94px;font-size:13px;line-height:14.95px;color:#6a6a6a;white-space:nowrap;letter-spacing:-0.3px;">05:00 pm - 01:00 ...</div>
<div style="position:absolute;left:937px;top:267px;width:126px;height:45px;background:#fff;border:1px solid #dcdcdc;box-sizing:border-box;"></div>
<div style="position:absolute;left:937px;top:267px;width:5px;height:45px;background:#9cc95a;"></div>
<div style="position:absolute;left:948px;top:273.94px;font-size:13px;line-height:14.95px;color:#555;white-space:nowrap;letter-spacing:-0.1px;">Prep Cook</div>
<div style="position:absolute;left:948px;top:289.94px;font-size:13px;line-height:14.95px;color:#6a6a6a;white-space:nowrap;letter-spacing:-0.3px;">09:00 am - 05:00 ...</div>
<div style="position:absolute;left:489px;top:335px;width:126px;height:45px;background:#fff;border:1px solid #dcdcdc;box-sizing:border-box;"></div>
<div style="position:absolute;left:489px;top:335px;width:5px;height:45px;background:#f3df55;"></div>
<div style="position:absolute;left:500px;top:341.94px;font-size:13px;line-height:14.95px;color:#555;white-space:nowrap;letter-spacing:-0.1px;">Bartender</div>
<div style="position:absolute;left:500px;top:357.94px;font-size:13px;line-height:14.95px;color:#6a6a6a;white-space:nowrap;letter-spacing:-0.3px;">10:00 pm - 02:00 ...</div>
<div style="position:absolute;left:639px;top:335px;width:126px;height:45px;background:#fff;border:1px solid #dcdcdc;box-sizing:border-box;"></div>
<div style="position:absolute;left:639px;top:335px;width:5px;height:45px;background:#f3df55;"></div>
<div style="position:absolute;left:650px;top:341.94px;font-size:13px;line-height:14.95px;color:#555;white-space:nowrap;letter-spacing:-0.1px;">Bartender</div>
<div style="position:absolute;left:650px;top:357.94px;font-size:13px;line-height:14.95px;color:#6a6a6a;white-space:nowrap;letter-spacing:-0.3px;">10:00 pm - 02:00 ...</div>
<div style="position:absolute;left:788px;top:335px;width:126px;height:45px;background:#fff;border:1px solid #dcdcdc;box-sizing:border-box;"></div>
<div style="position:absolute;left:788px;top:335px;width:5px;height:45px;background:#f3df55;"></div>
<div style="position:absolute;left:799px;top:341.94px;font-size:13px;line-height:14.95px;color:#555;white-space:nowrap;letter-spacing:-0.1px;">Bartender</div>
<div style="position:absolute;left:799px;top:357.94px;font-size:13px;line-height:14.95px;color:#6a6a6a;white-space:nowrap;letter-spacing:-0.3px;">10:00 pm - 06:00 ...</div>
<div style="position:absolute;left:937px;top:335px;width:126px;height:45px;background:#fff;border:1px solid #dcdcdc;box-sizing:border-box;"></div>
<div style="position:absolute;left:937px;top:335px;width:5px;height:45px;background:#f3df55;"></div>
<div style="position:absolute;left:948px;top:341.94px;font-size:13px;line-height:14.95px;color:#555;white-space:nowrap;letter-spacing:-0.1px;">Bartender</div>
<div style="position:absolute;left:948px;top:357.94px;font-size:13px;line-height:14.95px;color:#6a6a6a;white-space:nowrap;letter-spacing:-0.3px;">10:00 pm - 12:00 ...</div>
<div style="position:absolute;left:340px;top:403px;width:126px;height:45px;background:#fff;border:1px solid #dcdcdc;box-sizing:border-box;"></div>
<div style="position:absolute;left:340px;top:403px;width:5px;height:45px;background:#6cb4e3;"></div>
<div style="position:absolute;left:351px;top:409.94px;font-size:13px;line-height:14.95px;color:#555;white-space:nowrap;letter-spacing:-0.1px;">Line Cook</div>
<div style="position:absolute;left:351px;top:425.94px;font-size:13px;line-height:14.95px;color:#6a6a6a;white-space:nowrap;letter-spacing:-0.3px;">08:00 am - 10:00 ...</div>
<div style="position:absolute;left:639px;top:403px;width:126px;height:45px;background:#fff;border:1px solid #dcdcdc;box-sizing:border-box;"></div>
<div style="position:absolute;left:639px;top:403px;width:5px;height:45px;background:#6cb4e3;"></div>
<div style="position:absolute;left:650px;top:409.94px;font-size:13px;line-height:14.95px;color:#555;white-space:nowrap;letter-spacing:-0.1px;">Line Cook</div>
<div style="position:absolute;left:650px;top:425.94px;font-size:13px;line-height:14.95px;color:#6a6a6a;white-space:nowrap;letter-spacing:-0.3px;">08:00 am - 10:00 ...</div>
<div style="position:absolute;left:788px;top:403px;width:126px;height:45px;background:#fff;border:1px dashed #f07878;box-sizing:border-box;"></div>
<div style="position:absolute;left:788px;top:403px;width:5px;height:45px;background:#6cb4e3;"></div>
<div style="position:absolute;left:799px;top:409.94px;font-size:13px;line-height:14.95px;color:#555;white-space:nowrap;letter-spacing:-0.1px;">Line Cook</div>
<div style="position:absolute;left:799px;top:425.94px;font-size:13px;line-height:14.95px;color:#6a6a6a;white-space:nowrap;letter-spacing:-0.3px;">08:00 am - 11:00 ...</div>
<div style="position:absolute;left:937px;top:403px;width:126px;height:45px;background:#fff;border:1px solid #dcdcdc;box-sizing:border-box;"></div>
<div style="position:absolute;left:937px;top:403px;width:5px;height:45px;background:#6cb4e3;"></div>
<div style="position:absolute;left:948px;top:409.94px;font-size:13px;line-height:14.95px;color:#555;white-space:nowrap;letter-spacing:-0.1px;">Line Cook</div>
<div style="position:absolute;left:948px;top:425.94px;font-size:13px;line-height:14.95px;color:#6a6a6a;white-space:nowrap;letter-spacing:-0.3px;">08:00 am - 03:00 ...</div>
<svg style="position:absolute;left:343.75px;top:474px;" width="16" height="16" viewBox="0 0 16 16"><circle cx="8" cy="8" r="7.75" fill="#e5625a"/><rect x="4" y="6.8" width="8" height="2.6" rx="0.5" fill="#fff"/></svg>
<div style="position:absolute;left:365px;top:474.74px;font-size:13px;line-height:14.95px;color:#6a6a6a;white-space:nowrap;letter-spacing:-0.3px;">04:45 am - 07:0...</div>
<div style="position:absolute;left:489px;top:471px;width:126px;height:45px;background:#fff;border:1px dashed #f07878;box-sizing:border-box;"></div>
<div style="position:absolute;left:489px;top:471px;width:5px;height:45px;background:#e3805d;"></div>
<div style="position:absolute;left:500px;top:477.94px;font-size:13px;line-height:14.95px;color:#555;white-space:nowrap;letter-spacing:-0.1px;">Hostess</div>
<div style="position:absolute;left:500px;top:493.94px;font-size:13px;line-height:14.95px;color:#6a6a6a;white-space:nowrap;letter-spacing:-0.3px;">06:00 am - 04:00 ...</div>
<div style="position:absolute;left:639px;top:471px;width:126px;height:45px;background:#fff;border:1px solid #dcdcdc;box-sizing:border-box;"></div>
<div style="position:absolute;left:639px;top:471px;width:5px;height:45px;background:#e3805d;"></div>
<div style="position:absolute;left:650px;top:477.94px;font-size:13px;line-height:14.95px;color:#555;white-space:nowrap;letter-spacing:-0.1px;">Hostess</div>
<div style="position:absolute;left:650px;top:493.94px;font-size:13px;line-height:14.95px;color:#6a6a6a;white-space:nowrap;letter-spacing:-0.3px;">06:00 am - 02:00 ...</div>
<div style="position:absolute;left:788px;top:471px;width:126px;height:45px;background:#fff;border:1px solid #dcdcdc;box-sizing:border-box;"></div>
<div style="position:absolute;left:788px;top:471px;width:5px;height:45px;background:#e3805d;"></div>
<div style="position:absolute;left:799px;top:477.94px;font-size:13px;line-height:14.95px;color:#555;white-space:nowrap;letter-spacing:-0.1px;">Hostess</div>
<div style="position:absolute;left:799px;top:493.94px;font-size:13px;line-height:14.95px;color:#6a6a6a;white-space:nowrap;letter-spacing:-0.3px;">06:00 am - 02:00 ...</div>
<div style="position:absolute;left:937px;top:471px;width:126px;height:45px;background:#fff;border:1px solid #dcdcdc;box-sizing:border-box;"></div>
<div style="position:absolute;left:937px;top:471px;width:5px;height:45px;background:#e3805d;"></div>
<div style="position:absolute;left:948px;top:477.94px;font-size:13px;line-height:14.95px;color:#555;white-space:nowrap;letter-spacing:-0.1px;">Hostess</div>
<div style="position:absolute;left:948px;top:493.94px;font-size:13px;line-height:14.95px;color:#6a6a6a;white-space:nowrap;letter-spacing:-0.3px;">06:00 am - 02:00 ...</div>
<div style="position:absolute;left:340px;top:539px;width:126px;height:45px;background:#fff;border:1px solid #dcdcdc;box-sizing:border-box;"></div>
<div style="position:absolute;left:340px;top:539px;width:5px;height:45px;background:#f3df55;"></div>
<div style="position:absolute;left:351px;top:545.94px;font-size:13px;line-height:14.95px;color:#555;white-space:nowrap;letter-spacing:-0.1px;">Bartender</div>
<div style="position:absolute;left:351px;top:561.94px;font-size:13px;line-height:14.95px;color:#6a6a6a;white-space:nowrap;letter-spacing:-0.3px;">03:00 am - 11:00 ...</div>
<div style="position:absolute;left:489px;top:539px;width:126px;height:45px;background:#fff;border:1px solid #dcdcdc;box-sizing:border-box;"></div>
<div style="position:absolute;left:489px;top:539px;width:5px;height:45px;background:#f3df55;"></div>
<div style="position:absolute;left:500px;top:545.94px;font-size:13px;line-height:14.95px;color:#555;white-space:nowrap;letter-spacing:-0.1px;">Bartender</div>
<div style="position:absolute;left:500px;top:561.94px;font-size:13px;line-height:14.95px;color:#6a6a6a;white-space:nowrap;letter-spacing:-0.3px;">03:00 pm - 09:00 ...</div>
<svg style="position:absolute;left:642.75px;top:542px;" width="16" height="16" viewBox="0 0 16 16"><circle cx="8" cy="8" r="7.75" fill="#78a93c"/><path d="M4.5 8.3 L7 10.6 L11.6 5.8" fill="none" stroke="#fff" stroke-width="2"/></svg>
<div style="position:absolute;left:664px;top:542.74px;font-size:13px;line-height:14.95px;color:#6a6a6a;white-space:nowrap;letter-spacing:-0.3px;">05:30 am - 06:0...</div>
<div style="position:absolute;left:639px;top:566px;width:126px;height:45px;background:#fff;border:1px solid #dcdcdc;box-sizing:border-box;"></div>
<div style="position:absolute;left:639px;top:566px;width:5px;height:45px;background:#f3df55;"></div>
<div style="position:absolute;left:650px;top:572.94px;font-size:13px;line-height:14.95px;color:#555;white-space:nowrap;letter-spacing:-0.1px;">Bartender</div>
<div style="position:absolute;left:650px;top:588.94px;font-size:13px;line-height:14.95px;color:#6a6a6a;white-space:nowrap;letter-spacing:-0.3px;">03:00 pm - 11:00 ...</div>
<div style="position:absolute;left:788px;top:539px;width:126px;height:45px;background:#fff;border:1px solid #dcdcdc;box-sizing:border-box;"></div>
<div style="position:absolute;left:788px;top:539px;width:5px;height:45px;background:#f3df55;"></div>
<div style="position:absolute;left:799px;top:545.94px;font-size:13px;line-height:14.95px;color:#555;white-space:nowrap;letter-spacing:-0.1px;">Bartender</div>
<div style="position:absolute;left:799px;top:561.94px;font-size:13px;line-height:14.95px;color:#6a6a6a;white-space:nowrap;letter-spacing:-0.3px;">03:00 pm - 11:00 ...</div>
<div style="position:absolute;left:937px;top:539px;width:126px;height:45px;background:#fff;border:1px solid #dcdcdc;box-sizing:border-box;"></div>
<div style="position:absolute;left:937px;top:539px;width:5px;height:45px;background:#f3df55;"></div>
<div style="position:absolute;left:948px;top:545.94px;font-size:13px;line-height:14.95px;color:#555;white-space:nowrap;letter-spacing:-0.1px;">Bartender</div>
<div style="position:absolute;left:948px;top:561.94px;font-size:13px;line-height:14.95px;color:#6a6a6a;white-space:nowrap;letter-spacing:-0.3px;">03:00 pm - 09:00 ...</div>
<div style="position:absolute;left:340px;top:634px;width:126px;height:45px;background:#fff;border:1px solid #dcdcdc;box-sizing:border-box;"></div>
<div style="position:absolute;left:340px;top:634px;width:5px;height:45px;background:#6cb4e3;"></div>
<div style="position:absolute;left:351px;top:640.94px;font-size:13px;line-height:14.95px;color:#555;white-space:nowrap;letter-spacing:-0.1px;">Line Cook</div>
<div style="position:absolute;left:351px;top:656.94px;font-size:13px;line-height:14.95px;color:#6a6a6a;white-space:nowrap;letter-spacing:-0.3px;">08:00 am - 03:00 ...</div>
<svg style="position:absolute;left:642.75px;top:637px;" width="16" height="16" viewBox="0 0 16 16"><circle cx="8" cy="8" r="7.75" fill="#e5625a"/><rect x="4" y="6.8" width="8" height="2.6" rx="0.5" fill="#fff"/></svg>
<div style="position:absolute;left:664px;top:637.74px;font-size:13px;line-height:14.95px;color:#6a6a6a;white-space:nowrap;letter-spacing:-0.3px;">07:30 am - 04:0...</div>
<div style="position:absolute;left:788px;top:634px;width:126px;height:45px;background:#fff;border:1px solid #dcdcdc;box-sizing:border-box;"></div>
<div style="position:absolute;left:788px;top:634px;width:5px;height:45px;background:#6cb4e3;"></div>
<div style="position:absolute;left:799px;top:640.94px;font-size:13px;line-height:14.95px;color:#555;white-space:nowrap;letter-spacing:-0.1px;">Line Cook</div>
<div style="position:absolute;left:799px;top:656.94px;font-size:13px;line-height:14.95px;color:#6a6a6a;white-space:nowrap;letter-spacing:-0.3px;">08:00 am - 03:00 ...</div>
<div style="position:absolute;left:937px;top:634px;width:126px;height:45px;background:#fff;border:1px solid #dcdcdc;box-sizing:border-box;"></div>
<div style="position:absolute;left:937px;top:634px;width:5px;height:45px;background:#6cb4e3;"></div>
<div style="position:absolute;left:948px;top:640.94px;font-size:13px;line-height:14.95px;color:#555;white-space:nowrap;letter-spacing:-0.1px;">Line Cook</div>
<div style="position:absolute;left:948px;top:656.94px;font-size:13px;line-height:14.95px;color:#6a6a6a;white-space:nowrap;letter-spacing:-0.3px;">08:00 am - 03:00 ...</div>
<div style="position:absolute;left:340px;top:702px;width:126px;height:45px;background:#fff;border:1px solid #dcdcdc;box-sizing:border-box;"></div>
<div style="position:absolute;left:340px;top:702px;width:5px;height:45px;background:#a98fc7;"></div>
<div style="position:absolute;left:351px;top:708.94px;font-size:13px;line-height:14.95px;color:#555;white-space:nowrap;letter-spacing:-0.1px;">Dishwasher</div>
<div style="position:absolute;left:351px;top:724.94px;font-size:13px;line-height:14.95px;color:#6a6a6a;white-space:nowrap;letter-spacing:-0.3px;">04:00 am - 12:00 ...</div>
<div style="position:absolute;left:489px;top:702px;width:126px;height:45px;background:#fff;border:1px solid #dcdcdc;box-sizing:border-box;"></div>
<div style="position:absolute;left:489px;top:702px;width:5px;height:45px;background:#a98fc7;"></div>
<div style="position:absolute;left:500px;top:708.94px;font-size:13px;line-height:14.95px;color:#555;white-space:nowrap;letter-spacing:-0.1px;">Dishwasher</div>
<div style="position:absolute;left:500px;top:724.94px;font-size:13px;line-height:14.95px;color:#6a6a6a;white-space:nowrap;letter-spacing:-0.3px;">04:00 am - 12:00 ...</div>
<div style="position:absolute;left:639px;top:702px;width:126px;height:45px;background:#fff;border:1px solid #dcdcdc;box-sizing:border-box;"></div>
<div style="position:absolute;left:639px;top:702px;width:5px;height:45px;background:#a98fc7;"></div>
<div style="position:absolute;left:650px;top:708.94px;font-size:13px;line-height:14.95px;color:#555;white-space:nowrap;letter-spacing:-0.1px;">Dishwasher</div>
<div style="position:absolute;left:650px;top:724.94px;font-size:13px;line-height:14.95px;color:#6a6a6a;white-space:nowrap;letter-spacing:-0.3px;">04:00 am - 10:00 ...</div>
<div style="position:absolute;left:788px;top:702px;width:126px;height:45px;background:#fff;border:1px solid #dcdcdc;box-sizing:border-box;"></div>
<div style="position:absolute;left:788px;top:702px;width:5px;height:45px;background:#a98fc7;"></div>
<div style="position:absolute;left:799px;top:708.94px;font-size:13px;line-height:14.95px;color:#555;white-space:nowrap;letter-spacing:-0.1px;">Dishwasher</div>
<div style="position:absolute;left:799px;top:724.94px;font-size:13px;line-height:14.95px;color:#6a6a6a;white-space:nowrap;letter-spacing:-0.3px;">03:50 am - 04:00 ...</div>
<div style="position:absolute;left:937px;top:702px;width:126px;height:45px;background:#fff;border:1px solid #dcdcdc;box-sizing:border-box;"></div>
<div style="position:absolute;left:937px;top:702px;width:5px;height:45px;background:#a98fc7;"></div>
<div style="position:absolute;left:948px;top:708.94px;font-size:13px;line-height:14.95px;color:#555;white-space:nowrap;letter-spacing:-0.1px;">Dishwasher</div>
<div style="position:absolute;left:948px;top:724.94px;font-size:13px;line-height:14.95px;color:#6a6a6a;white-space:nowrap;letter-spacing:-0.3px;">04:00 am - 10:00 ...</div>
<svg style="position:absolute;left:343.75px;top:840px;" width="16" height="16" viewBox="0 0 16 16"><circle cx="8" cy="8" r="7.75" fill="#e5625a"/><rect x="4" y="6.8" width="8" height="2.6" rx="0.5" fill="#fff"/></svg>
<div style="position:absolute;left:365px;top:840.74px;font-size:13px;line-height:14.95px;color:#6a6a6a;white-space:nowrap;letter-spacing:-0.3px;">12:00 am - 09:3...</div>
<div style="position:absolute;left:340px;top:865px;width:126px;height:45px;background:#fff;border:1px solid #dcdcdc;box-sizing:border-box;"></div>
<div style="position:absolute;left:340px;top:865px;width:5px;height:45px;background:#f3df55;"></div>
<div style="position:absolute;left:351px;top:871.94px;font-size:13px;line-height:14.95px;color:#555;white-space:nowrap;letter-spacing:-0.1px;">Bartender</div>
<div style="position:absolute;left:351px;top:887.94px;font-size:13px;line-height:14.95px;color:#6a6a6a;white-space:nowrap;letter-spacing:-0.3px;">11:00 pm - 07:00 ...</div>
<div style="position:absolute;left:489px;top:837px;width:126px;height:45px;background:#fff;border:1px solid #dcdcdc;box-sizing:border-box;"></div>
<div style="position:absolute;left:489px;top:837px;width:5px;height:45px;background:#f3df55;"></div>
<div style="position:absolute;left:500px;top:843.94px;font-size:13px;line-height:14.95px;color:#555;white-space:nowrap;letter-spacing:-0.1px;">Bartender</div>
<div style="position:absolute;left:500px;top:859.94px;font-size:13px;line-height:14.95px;color:#6a6a6a;white-space:nowrap;letter-spacing:-0.3px;">11:00 pm - 07:00 ...</div>
<svg style="position:absolute;left:940.75px;top:840px;" width="16" height="16" viewBox="0 0 16 16"><circle cx="8" cy="8" r="7.75" fill="#78a93c"/><path d="M4.5 8.3 L7 10.6 L11.6 5.8" fill="none" stroke="#fff" stroke-width="2"/></svg>
<div style="position:absolute;left:962px;top:840.74px;font-size:13px;line-height:14.95px;color:#6a6a6a;white-space:nowrap;letter-spacing:-0.3px;">10:30 am - 09:0...</div>
<div style="position:absolute;left:1086px;top:837px;width:126px;height:45px;background:#fff;border:1px solid #dcdcdc;box-sizing:border-box;"></div>
<div style="position:absolute;left:1086px;top:837px;width:5px;height:45px;background:#f3df55;"></div>
<div style="position:absolute;left:1097px;top:843.94px;font-size:13px;line-height:14.95px;color:#555;white-space:nowrap;letter-spacing:-0.1px;">Bartender</div>
<div style="position:absolute;left:1097px;top:859.94px;font-size:13px;line-height:14.95px;color:#6a6a6a;white-space:nowrap;letter-spacing:-0.3px;">03:00 pm - 11:00 ...</div>
<svg style="position:absolute;left:1239.75px;top:840px;" width="16" height="16" viewBox="0 0 16 16"><circle cx="8" cy="8" r="7.75" fill="#e5625a"/><rect x="4" y="6.8" width="8" height="2.6" rx="0.5" fill="#fff"/></svg>
<div style="position:absolute;left:1261px;top:840.74px;font-size:13px;line-height:14.95px;color:#6a6a6a;white-space:nowrap;letter-spacing:-0.3px;">11:30 pm - 11:5...</div>
<svg style="position:absolute;left:343.75px;top:936px;" width="16" height="16" viewBox="0 0 16 16"><circle cx="8" cy="8" r="7.75" fill="#78a93c"/><path d="M4.5 8.3 L7 10.6 L11.6 5.8" fill="none" stroke="#fff" stroke-width="2"/></svg>
<div style="position:absolute;left:365px;top:936.74px;font-size:13px;line-height:14.95px;color:#6a6a6a;white-space:nowrap;letter-spacing:-0.3px;">04:15 am - 02:0...</div>
<svg style="position:absolute;left:642.75px;top:936px;" width="16" height="16" viewBox="0 0 16 16"><circle cx="8" cy="8" r="7.75" fill="#e5625a"/><rect x="4" y="6.8" width="8" height="2.6" rx="0.5" fill="#fff"/></svg>
<div style="position:absolute;left:664px;top:936.74px;font-size:13px;line-height:14.95px;color:#6a6a6a;white-space:nowrap;letter-spacing:-0.3px;">Whole day</div>
<svg style="position:absolute;left:642.75px;top:958px;" width="16" height="16" viewBox="0 0 16 16"><circle cx="8" cy="8" r="7.75" fill="#e5625a"/><rect x="4" y="6.8" width="8" height="2.6" rx="0.5" fill="#fff"/></svg>
<div style="position:absolute;left:664px;top:958.74px;font-size:13px;line-height:14.95px;color:#6a6a6a;white-space:nowrap;letter-spacing:-0.3px;">Whole day</div>
<svg style="position:absolute;left:642.75px;top:980px;" width="16" height="16" viewBox="0 0 16 16"><circle cx="8" cy="8" r="7.75" fill="#e5625a"/><rect x="4" y="6.8" width="8" height="2.6" rx="0.5" fill="#fff"/></svg>
<div style="position:absolute;left:664px;top:980.74px;font-size:13px;line-height:14.95px;color:#6a6a6a;white-space:nowrap;letter-spacing:-0.3px;">Whole day</div>
<div style="position:absolute;left:788px;top:933px;width:126px;height:45px;background:#fff;border:1px solid #dcdcdc;box-sizing:border-box;"></div>
<div style="position:absolute;left:788px;top:933px;width:5px;height:45px;background:#e3805d;"></div>
<div style="position:absolute;left:799px;top:939.94px;font-size:13px;line-height:14.95px;color:#555;white-space:nowrap;letter-spacing:-0.1px;">Hostess</div>
<div style="position:absolute;left:799px;top:955.94px;font-size:13px;line-height:14.95px;color:#6a6a6a;white-space:nowrap;letter-spacing:-0.3px;">09:00 am - 09:30 ...</div>
<div style="position:absolute;left:937px;top:933px;width:126px;height:45px;background:#fff;border:1px solid #dcdcdc;box-sizing:border-box;"></div>
<div style="position:absolute;left:937px;top:933px;width:5px;height:45px;background:#e3805d;"></div>
<div style="position:absolute;left:948px;top:939.94px;font-size:13px;line-height:14.95px;color:#555;white-space:nowrap;letter-spacing:-0.1px;">Hostess</div>
<div style="position:absolute;left:948px;top:955.94px;font-size:13px;line-height:14.95px;color:#6a6a6a;white-space:nowrap;letter-spacing:-0.3px;">12:00 pm - 08:00 ...</div>
<div style="position:absolute;left:1311px;top:891px;width:55px;height:55px;border-radius:50%;background:#0a6db2;box-shadow:0 4px 10px rgba(0,0,0,0.28);"></div>
<svg style="position:absolute;left:1326px;top:906px;" width="26" height="26" viewBox="0 0 26 26"><path d="M3 1 H22 Q25 1 25 4 V18 Q25 21 22 21 H10 L5 25 L6 21 H3 Q0 21 0 18 V4 Q0 1 3 1 Z" fill="#fff"/><text x="12.5" y="16" font-size="13" font-weight="bold" text-anchor="middle" fill="#0a6db2" font-family="Liberation Sans">?</text></svg></body></html>
